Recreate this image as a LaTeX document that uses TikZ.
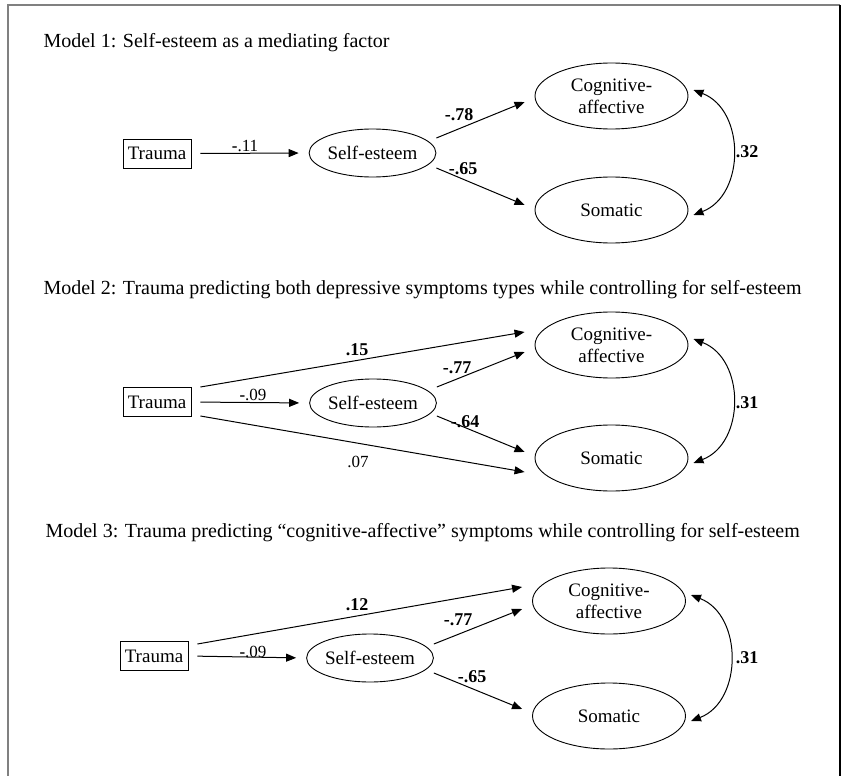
\documentclass[tikz,border=0pt]{standalone}
\usepackage{fontspec}
\setmainfont{Liberation Serif}
\usetikzlibrary{arrows.meta,shapes.geometric}

\begin{document}
\begin{tikzpicture}[x=1pt,y=-1pt,
	observed/.style={draw,rectangle,inner sep=0pt,minimum width=68pt,minimum height=29pt,line width=0.9pt,font=\fontsize{19}{22}\selectfont},
	latent/.style={draw,ellipse,inner sep=0pt,line width=0.9pt,align=center,font=\fontsize{19}{22}\selectfont},
	mediator/.style={latent,minimum width=115pt,minimum height=48pt},
	symptom/.style={latent,minimum width=153pt,minimum height=66pt},
	effect/.style={-{Triangle[length=10pt,width=8pt]},line width=1pt},
	covar/.style={{Triangle[length=10pt,width=8pt]}-{Triangle[length=10pt,width=8pt]},line width=1pt},
	coef/.style={font=\fontsize{18}{20}\selectfont\bfseries},
	weak/.style={font=\fontsize{17}{19}\selectfont},
	title/.style={anchor=west,font=\fontsize{20}{24}\selectfont}]
	\useasboundingbox (0,0) rectangle (846,776);
	\draw[line width=2pt,gray] (8,776) -- (8,5) -- (840,5);
	\draw[line width=1.5pt] (840,5) -- (840,776);
	
	% model 1
	\node[title] (title1) at (40,43) {Model 1: Self-esteem as a mediating factor};
	\node[observed] (trauma1) at (157,153.5) {Trauma};
	\node[mediator] (se1) at (372.5,153) {Self-esteem};
	\node[symptom] (cog1) at (611.5,96) {Cognitive-\\affective};
	\node[symptom] (som1) at (611.5,210) {Somatic};
	\draw[effect,shorten <=9pt,shorten >=10pt] (trauma1.east) -- (se1.west);
	\draw[effect] ([yshift=15pt]se1.east) -- ([xshift=-10pt,yshift=-6pt]cog1.west);
	\draw[effect] ([yshift=-15pt]se1.east) -- ([xshift=-10pt,yshift=5pt]som1.west);
	\draw[covar] ([xshift=5pt,yshift=6pt]cog1.east) .. controls +(52,20) and +(52,-20) .. ([xshift=5pt,yshift=-5pt]som1.east);
	\node[weak] (b11) at (245,146) {\textbf{-}.11};
	\node[coef] (b78) at (459,115) {-.78};
	\node[coef] (b65) at (463,169) {-.65};
	\node[coef] (r32) at (747,152) {.32};
	
	% model 2
	\node[title] (title2) at (40,290) {Model 2: Trauma predicting both depressive symptoms types while controlling for self-esteem};
	\node[observed] (trauma2) at (157,402) {Trauma};
	\node[mediator] (se2) at (373,403) {Self-esteem};
	\node[symptom] (cog2) at (611.5,345) {Cognitive-\\affective};
	\node[symptom] (som2) at (611.5,458) {Somatic};
	\draw[effect] ([xshift=9pt,yshift=15pt]trauma2.east) -- ([xshift=-10pt,yshift=13pt]cog2.west);
	\draw[effect,shorten <=9pt,shorten >=10pt] (trauma2.east) -- (se2.west);
	\draw[effect] ([xshift=9pt,yshift=-14pt]trauma2.east) -- ([xshift=-10pt,yshift=-14pt]som2.west);
	\draw[effect] ([yshift=16pt]se2.east) -- ([xshift=-10pt,yshift=-7pt]cog2.west);
	\draw[effect] ([yshift=-13pt]se2.east) -- ([xshift=-10pt,yshift=6pt]som2.west);
	\draw[covar] ([xshift=5pt,yshift=6pt]cog2.east) .. controls +(52,20) and +(52,-20) .. ([xshift=5pt,yshift=-5pt]som2.east);
	\node[coef] (b15) at (357,350) {.15};
	\node[weak] (b09a) at (253,395) {\textbf{-}.09};
	\node[coef] (b77a) at (457,368) {-.77};
	\node[coef] (b64) at (465,422) {-.64};
	\node[weak] (b07) at (358,462) {.07};
	\node[coef] (r31a) at (747,403) {.31};
	
	% model 3
	\node[title] (title3) at (42,533) {Model 3: Trauma predicting ``cognitive-affective'' symptoms while controlling for self-esteem};
	\node[observed] (trauma3) at (154,656) {Trauma};
	\node[mediator] (se3) at (370,658) {Self-esteem};
	\node[symptom] (cog3) at (609,601) {Cognitive-\\affective};
	\node[symptom] (som3) at (609,716) {Somatic};
	\draw[effect] ([xshift=9pt,yshift=12pt]trauma3.east) -- ([xshift=-10pt,yshift=14pt]cog3.west);
	\draw[effect,shorten <=9pt,shorten >=10pt] (trauma3.east) -- (se3.west);
	\draw[effect] ([yshift=14pt]se3.east) -- ([xshift=-10pt,yshift=-8pt]cog3.west);
	\draw[effect] ([yshift=-15pt]se3.east) -- ([xshift=-10pt,yshift=7pt]som3.west);
	\draw[covar] ([xshift=5pt,yshift=6pt]cog3.east) .. controls +(52,20) and +(52,-20) .. ([xshift=5pt,yshift=-5pt]som3.east);
	\node[coef] (b12) at (357,605) {.12};
	\node[weak] (b09b) at (253,652) {\textbf{-}.09};
	\node[coef] (b77b) at (458,620) {-.77};
	\node[coef] (b65b) at (472,677) {-.65};
	\node[coef] (r31b) at (747,658) {.31};
\end{tikzpicture}
\end{document}
